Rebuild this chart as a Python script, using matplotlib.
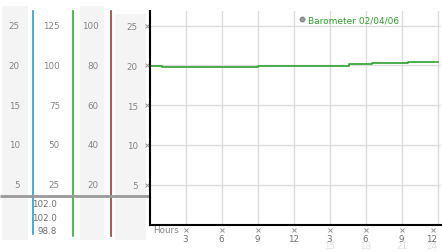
from matplotlib import pyplot as plt
from matplotlib.lines import Line2D
from matplotlib.transforms import offset_copy

# data
hours = [0, 1, 9, 16.6, 18.5, 21.5, 24]
barometer = [19.97, 19.77, 19.97, 20.15, 20.28, 20.44, 20.44]
x_ticks = [3, 6, 9, 12, 15, 18, 21, 24]
x_labels = ['3', '6', '9', '12', '3', '6', '9', '12']
x_labels2 = ['', '', '', '', '15', '18', '21', '24']
y_ticks = [5, 10, 15, 20, 25]
col2_labels = ['25', '50', '75', '100', '125']
col3_labels = ['20', '40', '60', '80', '100']
readings = ['102.0', '102.0', '98.8']
legend_label = 'Barometer 02/04/06'

W, H = 442, 253
GRAY_TXT = '#858585'
BG = '#f4f4f4'


def box(x0, y0, x1, y1):
    # pixel box -> figure fraction
    return [x0 / W, 1 - y1 / H, (x1 - x0) / W, (y1 - y0) / H]


fig = plt.figure(figsize=(W / 100, H / 100), dpi=100)

# main plot
ax_top, ax_bot = 12, 225.5
ymax = 26.85
ppu = (ax_bot - ax_top) / ymax

# left panel (same vertical scale as main plot)
lt, lb = 7, 241
lax = fig.add_axes(box(0, lt, 149, lb))
lax.set_xlim(0, 149)
lax.set_ylim((ax_bot - lb) / ppu, (ax_bot - lt) / ppu)
lax.axis('off')


def fy(p):
    return (lb - p) / (lb - lt)


lax.axvspan(2, 28, 0, 1, color=BG, lw=0)
lax.axvspan(80, 104, 0, 1, color=BG, lw=0)
lax.axvspan(115, 146, 0, fy(15), color=BG, lw=0)
lax.axvline(33, fy(235), fy(12), color='#3399cc', lw=1.2)
lax.axvline(72.5, fy(237), fy(12), color='#33aa33', lw=1.2)
lax.axvline(111, fy(237), fy(12), color='#aa3333', lw=1.2)
lax.plot([0, 1], [fy(197), fy(197)], transform=lax.transAxes,
         color='#9a9a9a', lw=2, solid_capstyle='butt')

for v, l2, l3 in zip(y_ticks, col2_labels, col3_labels):
    lax.text(20, v, str(v), ha='right', va='center', fontsize=6.3, color=GRAY_TXT)
    lax.text(60, v, l2, ha='right', va='center', fontsize=6.3, color=GRAY_TXT)
    lax.text(99, v, l3, ha='right', va='center', fontsize=6.3, color=GRAY_TXT)

# current readings under the separator line
for i, r in enumerate(readings):
    lax.text(57, fy(204.5 + i * 13.7), r, transform=lax.get_xaxis_transform(),
             ha='right', va='center', fontsize=6.3, color='#707070')

ax = fig.add_axes(box(149.5, ax_top, 440.5, ax_bot))
ax.set_xlim(0, 24.25)
ax.set_ylim(0, ymax)

ax.plot(hours, barometer, color='#2ea02e', lw=1.2, drawstyle='steps-post')

for v in y_ticks:
    ax.axhline(v, color='#dcdcdc', lw=1, zorder=0)
for x in x_ticks:
    ax.axvline(x, color='#dcdcdc', lw=1, zorder=0)

for s in ['top', 'right']:
    ax.spines[s].set_visible(False)
ax.spines['left'].set_linewidth(1.5)
ax.spines['bottom'].set_linewidth(1.5)

ax.set_yticks(y_ticks)
ax.set_yticklabels([str(v) for v in y_ticks], fontsize=6.3, color=GRAY_TXT)
ax.tick_params(axis='y', length=0, pad=8.5)
ax.set_xticks(x_ticks)
ax.set_xticklabels(x_labels, fontsize=6.3, color='#707070')
ax.tick_params(axis='x', length=0, pad=6.5)
ax.get_xticklabels()[-1].set_ha('right')

# little cross tick marks
ytr = offset_copy(ax.get_yaxis_transform(), fig=fig, x=-3, y=0, units='dots')
ax.plot([0] * len(y_ticks), y_ticks, 'x', ms=2.8, mew=0.7, color='#999999',
        transform=ytr, clip_on=False)
xtr = offset_copy(ax.get_xaxis_transform(), fig=fig, x=0, y=-5, units='dots')
ax.plot(x_ticks[:-1], [0] * (len(x_ticks) - 1), 'x', ms=2.8, mew=0.7,
        color='#999999', transform=xtr, clip_on=False)
xtr_last = offset_copy(ax.get_xaxis_transform(), fig=fig, x=-5, y=-5, units='dots')
ax.plot(x_ticks[-1:], [0], 'x', ms=2.8, mew=0.7, color='#999999',
        transform=xtr_last, clip_on=False)

# second row of hour labels
xtr2 = offset_copy(ax.get_xaxis_transform(), fig=fig, x=0, y=-21, units='dots')
for x, l in zip(x_ticks, x_labels2):
    ax.text(x, 0, l, transform=xtr2, ha='right' if x == x_ticks[-1] else 'center',
            va='center', fontsize=6.3, color='#dedede')

ax.annotate('Hours', xy=(0, 0), xycoords='axes fraction', xytext=(4, -5),
            textcoords='offset pixels', ha='left', va='center',
            fontsize=6.3, color=GRAY_TXT)

handle = Line2D([], [], marker='o', ls='none', ms=3.2, color='#a0a0a0',
                mec='#888888')
ax.legend([handle], [legend_label], loc='center left',
          bbox_to_anchor=(0.516, 0.959), frameon=False, fontsize=6.5,
          labelcolor='#2ea02e', handlelength=0.6, handletextpad=0.3,
          borderpad=0, borderaxespad=0)

fig.savefig('out.png', dpi=100)
